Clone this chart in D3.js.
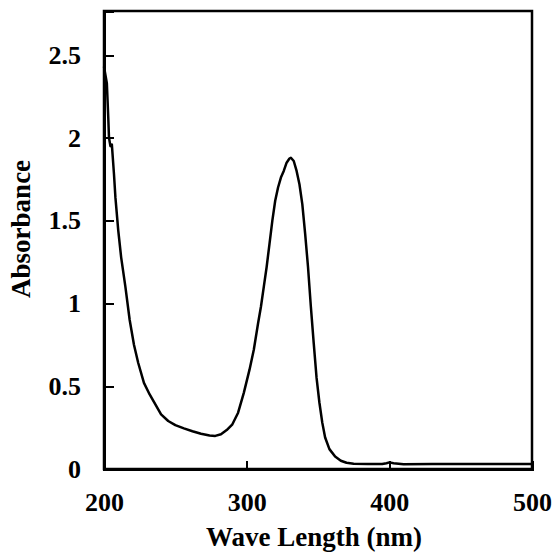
<!DOCTYPE html>
<html>
<head>
  <meta charset="utf-8">
  <title>Absorbance spectrum</title>
  <script src="https://d3js.org/d3.v7.min.js"></script>
  <style>
    body { margin: 0; background: #fff; }
    .axis path, .axis line { stroke: #000; shape-rendering: crispEdges; }
    .axis text { font-family: "Liberation Serif", "Times New Roman", serif; font-weight: bold; fill: #000; }
    .title { font-family: "Liberation Serif", "Times New Roman", serif; font-weight: bold; font-size: 27px; fill: #000; }
  </style>
</head>
<body>
  <div id="chart"></div>
  <script>
    // spectrum
    const wavelength = [200, 202, 203, 203.5, 204.5, 205.5, 207, 208, 210, 212, 215, 218, 221, 224, 228, 232, 236, 240, 245, 250,
      256, 262, 268, 274, 278, 282, 286, 290, 294, 298, 302, 305, 308, 310, 312, 314, 316, 318, 320, 322,
      324, 326, 328, 330, 331, 333, 335, 337, 339, 341, 343, 345, 347, 349, 351, 353, 355, 358, 362, 366,
      370, 375, 385, 395, 398, 400, 403, 410, 430, 460, 480, 500];
    const absorbance = [2.43, 2.33, 2.12, 2.0, 1.95, 1.96, 1.78, 1.64, 1.44, 1.28, 1.1, 0.9, 0.75, 0.64, 0.52, 0.45, 0.39, 0.33, 0.29, 0.265,
      0.245, 0.228, 0.213, 0.202, 0.2, 0.21, 0.235, 0.27, 0.34, 0.46, 0.6, 0.72, 0.88, 0.98, 1.1, 1.22, 1.36, 1.5, 1.62, 1.7,
      1.76, 1.8, 1.85, 1.875, 1.88, 1.86, 1.8, 1.72, 1.6, 1.42, 1.22, 0.98, 0.76, 0.55, 0.4, 0.28, 0.19, 0.12, 0.075, 0.05,
      0.038, 0.032, 0.03, 0.03, 0.035, 0.04, 0.035, 0.028, 0.03, 0.03, 0.03, 0.03];

    const xTicks = [200, 300, 400, 500];
    const yTicks = [0, 0.5, 1, 1.5, 2, 2.5];
    const yTickLabels = ["0", "0.5", "1", "1.5", "2", "2.5"];

    const margin = { top: 11, right: 21, bottom: 87, left: 104 };
    const width = 553 - margin.left - margin.right;
    const height = 556 - margin.top - margin.bottom;

    const svg = d3.select("#chart")
      .append("svg")
      .attr("width", 553)
      .attr("height", 556)
      .append("g")
      .attr("transform", `translate(${margin.left},${margin.top})`);

    const x = d3.scaleLinear().domain([200, 500]).range([0, width]);
    const y = d3.scaleLinear().domain([0, 2.766]).range([height, 0]);

    // frame (top and right)
    svg.append("rect")
      .attr("x", 0).attr("y", 0)
      .attr("width", width).attr("height", height)
      .attr("fill", "none")
      .attr("stroke", "#000")
      .attr("stroke-width", 2.5);

    const xAxis = svg.append("g")
      .attr("class", "axis")
      .attr("transform", `translate(0,${height})`)
      .call(d3.axisBottom(x).tickValues(xTicks).tickFormat(d3.format("d")).tickSize(-8).tickPadding(24));
    xAxis.select(".domain").attr("stroke-width", 3);
    xAxis.selectAll("line").attr("stroke-width", 2);
    xAxis.selectAll("text").style("font-size", "26px");

    const yAxis = svg.append("g")
      .attr("class", "axis")
      .call(d3.axisLeft(y).tickValues(yTicks).tickFormat((d, i) => yTickLabels[i]).tickSize(-10).tickPadding(23));
    yAxis.select(".domain").attr("stroke-width", 3);
    yAxis.selectAll("line").attr("stroke-width", 2);
    yAxis.selectAll("text").style("font-size", "26px");

    const line = d3.line()
      .x((d, i) => x(wavelength[i]))
      .y(d => y(d));

    svg.append("path")
      .datum(absorbance)
      .attr("fill", "none")
      .attr("stroke", "#000")
      .attr("stroke-width", 2.5)
      .attr("stroke-linejoin", "round")
      .attr("d", line);

    svg.append("text")
      .attr("class", "title")
      .attr("text-anchor", "middle")
      .attr("x", x(350) - 4)
      .attr("y", height + 77)
      .text("Wave Length (nm)");

    svg.append("text")
      .attr("class", "title")
      .attr("text-anchor", "middle")
      .attr("transform", `translate(${-104 + 30},${y(1.45)}) rotate(-90)`)
      .text("Absorbance");
  </script>
</body>
</html>
